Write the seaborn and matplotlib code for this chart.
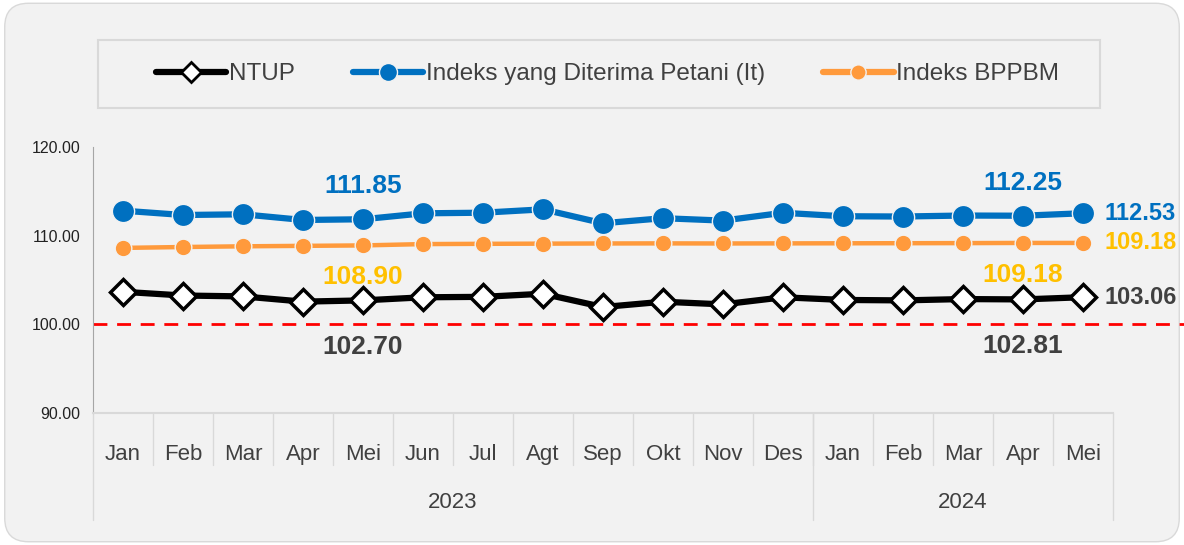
import numpy as np
import pandas as pd
import matplotlib
matplotlib.use('Agg')
import matplotlib.pyplot as plt
import matplotlib.transforms as mtransforms
from matplotlib.patches import FancyBboxPatch, Rectangle
from matplotlib.lines import Line2D
import seaborn as sns

# data
months = ['Jan', 'Feb', 'Mar', 'Apr', 'Mei', 'Jun', 'Jul', 'Agt', 'Sep', 'Okt', 'Nov', 'Des',
          'Jan', 'Feb', 'Mar', 'Apr', 'Mei']
years = ['2023', '2024']
year_counts = [12, 5]
it_vals = [112.82, 112.33, 112.41, 111.77, 111.85, 112.52, 112.59, 112.97, 111.40,
           111.97, 111.70, 112.58, 112.19, 112.16, 112.27, 112.25, 112.53]
bppbm_vals = [108.62, 108.72, 108.80, 108.85, 108.90, 109.05, 109.08, 109.10, 109.12,
              109.13, 109.12, 109.13, 109.14, 109.15, 109.16, 109.18, 109.18]
ntup_vals = [103.67, 103.25, 103.15, 102.56, 102.70, 103.05, 103.10, 103.45, 101.95,
             102.55, 102.25, 103.05, 102.75, 102.70, 102.85, 102.81, 103.06]
# labelled points
label_idx = [4, 15]

df = pd.DataFrame({'pos': np.arange(len(months)), 'It': it_vals,
                   'BPPBM': bppbm_vals, 'NTUP': ntup_vals})

sns.set_style('white')
plt.rcParams['font.family'] = ['Liberation Sans Narrow', 'Liberation Sans', 'DejaVu Sans']

BLUE = '#0070C0'
ORANGE = '#FF9A3C'
GOLD = '#FFC000'
DARK = '#404040'
BG = '#F2F2F2'

fig = plt.figure(figsize=(11.84, 5.45), dpi=100, facecolor='white')
bg = FancyBboxPatch((0.004, 0.006), 0.992, 0.988, boxstyle='round,pad=0,rounding_size=0.02',
                    transform=fig.transFigure, facecolor=BG, edgecolor='#D9D9D9', lw=1.0,
                    mutation_aspect=1184 / 545, zorder=-10)
fig.patches.append(bg)

ax = fig.add_axes([93 / 1184, 1 - 413 / 545, 1020 / 1184, 266 / 545])
ax.set_facecolor(BG)

sns.lineplot(data=df, x='pos', y='It', ax=ax, color=BLUE, lw=4.5, marker='o', ms=16,
             mec=BG, mew=1.0, zorder=4)
sns.lineplot(data=df, x='pos', y='BPPBM', ax=ax, color=ORANGE, lw=3.2, marker='o', ms=12,
             mec=BG, mew=1.0, zorder=3)
sns.lineplot(data=df, x='pos', y='NTUP', ax=ax, color='black', lw=4.5, marker='D', ms=13,
             mfc='white', mec='black', mew=2.5, zorder=5)

# reference line at 100
ax.plot([-0.5, 18.5], [100, 100], color='#FF0000', lw=2, ls=(0, (5, 3.5)), clip_on=False, zorder=2)

ax.set_xlim(-0.5, len(months) - 0.5)
ax.set_ylim(90, 120)
ax.set_yticks([90, 100, 110, 120])
ax.set_yticklabels([f'{v:.2f}' for v in [90, 100, 110, 120]], fontsize=11.5, color='#222222')
ax.tick_params(axis='y', length=5, width=1, color='#A6A6A6', direction='out', pad=4)
ax.set_xticks(df['pos'])
ax.set_xticklabels(months, fontsize=16, color=DARK)
ax.tick_params(axis='x', length=0, pad=22)
ax.set_xlabel('')
ax.set_ylabel('')
for s in ['top', 'right']:
    ax.spines[s].set_visible(False)
ax.spines['left'].set_color('#A6A6A6')
ax.spines['bottom'].set_color('#D9D9D9')
ax.spines['bottom'].set_linewidth(1.5)

# category separators and year labels
trans = mtransforms.blended_transform_factory(ax.transData, ax.transAxes)
for i in range(1, len(months)):
    ax.plot([i - 0.5, i - 0.5], [0, -0.195], color='#D9D9D9', lw=1, transform=trans, clip_on=False)
start = 0
for yr, n in zip(years, year_counts):
    ax.plot([start - 0.5, start - 0.5], [0, -0.402], color='#D9D9D9', lw=1, transform=trans, clip_on=False)
    ax.text(start + (n - 1) / 2, -0.335, yr, transform=trans, ha='center', va='center',
            fontsize=16, color=DARK)
    start += n
ax.plot([start - 0.5, start - 0.5], [0, -0.402], color='#D9D9D9', lw=1, transform=trans, clip_on=False)

# data labels
for i in label_idx:
    ax.text(i, it_vals[i] + 3.7, f'{it_vals[i]:.2f}', ha='center', va='center',
            fontsize=19, fontweight='bold', color=BLUE)
    ax.text(i, bppbm_vals[i] - 3.6, f'{bppbm_vals[i]:.2f}', ha='center', va='center',
            fontsize=19, fontweight='bold', color=GOLD)
    ax.text(i, ntup_vals[i] - 5.3, f'{ntup_vals[i]:.2f}', ha='center', va='center',
            fontsize=19, fontweight='bold', color=DARK)
last = len(months) - 1
for vals, col, dy in [(it_vals, BLUE, 0.0), (bppbm_vals, GOLD, 0.0), (ntup_vals, DARK, 0.0)]:
    ax.text(last + 0.36, vals[last] + dy, f'{vals[last]:.2f}', ha='left', va='center',
            fontsize=17, fontweight='bold', color=col, clip_on=False)

# legend
fig.patches.append(Rectangle((98 / 1184, 1 - 108 / 545), 1002 / 1184, 68 / 545,
                             transform=fig.transFigure, facecolor=BG, edgecolor='#D9D9D9', lw=1.5))
handles = [
    Line2D([], [], color='black', lw=4.5, marker='D', ms=10, mfc='white', mec='black', mew=2),
    Line2D([], [], color=BLUE, lw=4.5, marker='o', ms=13, mec=BG, mew=1),
    Line2D([], [], color=ORANGE, lw=4.5, marker='o', ms=11, mec=BG, mew=1),
]
fig.legend(handles, ['NTUP', 'Indeks yang Diterima Petani (It)', 'Indeks BPPBM'],
           loc='center', bbox_to_anchor=(0.513, 1 - 74 / 545), ncol=3, frameon=False,
           fontsize=17.5, handlelength=2.9, handletextpad=0.1, columnspacing=2.4,
           labelcolor=DARK)

fig.savefig('out.png', dpi=100, facecolor='white')
